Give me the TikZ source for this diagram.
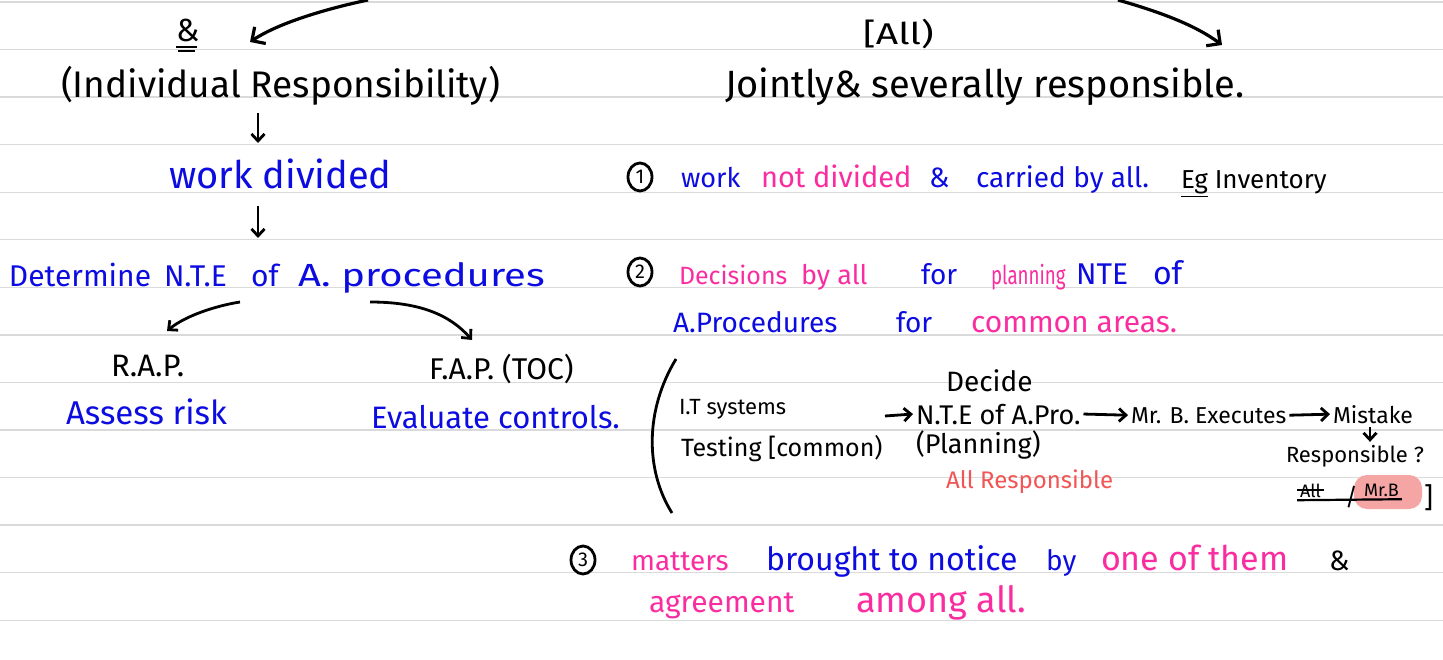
\documentclass[tikz,border=0pt]{standalone}
\usepackage{fontspec}
\usepackage{graphicx}
\setmainfont{Fira Sans}
\usetikzlibrary{arrows.meta,shapes.geometric}
\definecolor{inkblue}{RGB}{12,12,225}
\definecolor{inkpink}{RGB}{250,45,160}
\definecolor{inkred}{RGB}{242,85,85}
\definecolor{hilite}{RGB}{246,165,165}
\definecolor{ruleclr}{RGB}{218,218,218}
\newcommand{\fsz}[1]{\fontsize{#1}{#1}\selectfont}
\begin{document}
\begin{tikzpicture}[x=1pt,y=-1pt,
  txt/.style={anchor=base west, inner sep=0pt, outer sep=3pt},
  blk/.style={txt, text=black},
  blu/.style={txt, text=inkblue},
  pnk/.style={txt, text=inkpink},
  arr/.style={draw=black, line width=3.2pt, -{Straight Barb[length=10pt,width=20pt]}},
  arrs/.style={draw=black, line width=2.8pt, -{Straight Barb[length=7pt,width=13pt]}},
  numc/.style={draw=black, line width=2.8pt, ellipse, inner sep=0pt, minimum width=24pt, minimum height=28pt, font=\fsz{20}},
  ruleline/.style={draw=ruleclr, line width=1.3pt}]
\useasboundingbox (0,0) rectangle (1443,660);
\fill[white] (0,0) rectangle (1443,660);
\foreach \k in {0,...,13} \draw[ruleline] (0,{2+47.55*\k}) -- (1443,{2+47.55*\k});

% ---------- top ----------
\node[blk, font=\fsz{32}] (amp) at (173,42) {\&};
\draw[line width=2.4pt] (176,47) -- (197,47) (178,51) -- (195,51);
\node[blk, font=\fsz{37}] (indiv) at (58,98) {(Individual Responsibility)};
\node[blk, font=\fsz{30}] (allb) at (860,45) {\scalebox{1.3}[1]{[All)}};
\node[blk, font=\fsz{38}] (joint) at (722,98) {Jointly\& severally responsible.};
\coordinate (tlS) at (368,0);
\coordinate (tlE) at (250,42);
\draw[arr] (tlS) .. controls (330,8) and (280,22) .. (tlE);
\coordinate (trS) at (1118,0);
\coordinate (trE) at (1222,45);
\draw[arr] (trS) .. controls (1160,12) and (1195,25) .. (trE);

% ---------- left column ----------
\coordinate (d1s) at (258,113);
\coordinate (d1e) at (258,143);
\draw[arrs] (d1s) -- (d1e);
\node[blu, font=\fsz{38}] (workdiv) at (166,189) {work divided};
\coordinate (d2s) at (258,206);
\coordinate (d2e) at (258,238);
\draw[arrs] (d2s) -- (d2e);
\node[blu, font=\fsz{30}] (det) at (6,287) {Determine};
\node[blu, font=\fsz{30}] (nteL) at (161,287) {N.T.E};
\node[blu, font=\fsz{30}] (ofL) at (248,287) {of};
\node[blu, font=\fsz{32}] (procL) at (295,287) {\scalebox{1.25}[1]{A. procedures}};
\coordinate (sl1) at (240,302);
\coordinate (sl2) at (167,331);
\draw[arrs] (sl1) .. controls (215,306) and (185,316) .. (sl2);
\coordinate (sr1) at (370,302);
\coordinate (sr2) at (472,340);
\draw[arrs] (sr1) .. controls (420,302) and (450,315) .. (sr2);
\node[blk, font=\fsz{31}] (rap) at (108,376) {R.A.P.};
\node[blk, font=\fsz{30}] (fap) at (426,379) {F.A.P. (TOC)};
\node[blu, font=\fsz{33}] (assess) at (63,424) {Assess risk};
\node[blu, font=\fsz{31}] (eval) at (368,428) {Evaluate controls.};

% ---------- right column ----------
\node[numc] (c1) at (640,177) {1};
\node[blu, font=\fsz{27}] (r1a) at (678,188) {work};
\node[pnk, font=\fsz{29}] (r1b) at (758,188) {not divided};
\node[blu, font=\fsz{28}] (r1c) at (926,188) {\&};
\node[blu, font=\fsz{28}] (r1d) at (973,188) {carried by all.};
\node[blk, font=\fsz{26}] (r1e) at (1178,189) {\underline{Eg} Inventory};

\node[numc] (c2) at (640,272) {2};
\node[pnk, font=\fsz{25}] (r2a) at (676,285) {Decisions};
\node[pnk, font=\fsz{27}] (r2b) at (798,285) {by all};
\node[blu, font=\fsz{28}] (r2c) at (918,285) {for};
\node[pnk, font=\fsz{26}] (r2d) at (988,285) {\scalebox{0.72}[1]{planning}};
\node[blu, font=\fsz{30}] (r2e) at (1073,285) {NTE};
\node[blu, font=\fsz{32}] (r2f) at (1150,285) {of};
\node[blu, font=\fsz{28}] (r3a) at (670,332) {A.Procedures};
\node[blu, font=\fsz{28}] (r3b) at (893,332) {for};
\node[pnk, font=\fsz{30}] (r3c) at (968,332) {common areas.};

\draw[line width=2.8pt] (676,359) .. controls (645,410) and (645,470) .. (672,513);
\node[blk, font=\fsz{22}] (its) at (676,414) {I.T systems};
\node[blk, font=\fsz{25}] (test) at (678,456) {Testing [common)};
\node[blk, font=\fsz{28}] (decide) at (943,391) {Decide};
\node[blk, font=\fsz{27}] (nte) at (913,424) {N.T.E of A.Pro.};
\node[blk, font=\fsz{27}] (plan) at (913,453) {(Planning)};
\node[txt, text=inkred, font=\fsz{24}] (allresp) at (943,488) {All Responsible};
\node[blk, font=\fsz{23}] (mrb) at (1128,423) {Mr. B. Executes};
\node[blk, font=\fsz{23}] (mist) at (1330,423) {Mistake};
\node[blk, font=\fsz{22}] (resp) at (1283,462) {Responsible ?};
\coordinate (itend) at (885,416);
\draw[arrs] (itend) -- (nte.west);
\draw[arrs] (nte.east) -- (mrb.west);
\draw[arrs] (mrb.east) -- (mist.west);
\coordinate (mdown) at (1370,427);
\draw[arrs] (mdown) -- (mdown |- resp.north);
\fill[hilite, rounded corners=13pt] (1354,475) rectangle (1422,509);
\node[blk, font=\fsz{18}] (allx) at (1297,497) {All};
\draw[line width=2.2pt] (allx.west) -- (allx.east);
\node[blk, font=\fsz{24}] (slash) at (1342,505) {/};
\node[blk, font=\fsz{18}] (mrbb) at (1361,496) {Mr.B};
\draw[line width=2.2pt] (allx.south west) -- (mrbb.south east);
\node[blk, font=\fsz{28}] (rbr) at (1421,507) {]};

% ---------- bottom ----------
\node[numc] (c3) at (583,560) {3};
\node[pnk, font=\fsz{28}] (b1) at (628,570) {matters};
\node[blu, font=\fsz{32}] (b2) at (763,570) {brought to notice};
\node[blu, font=\fsz{28}] (b3) at (1043,570) {by};
\node[pnk, font=\fsz{34}] (b4) at (1098,570) {one of them};
\node[blk, font=\fsz{28}] (b5) at (1326,570) {\&};
\node[pnk, font=\fsz{30}] (b6) at (646,612) {agreement};
\node[pnk, font=\fsz{36}] (b7) at (853,612) {among all.};
\end{tikzpicture}
\end{document}
